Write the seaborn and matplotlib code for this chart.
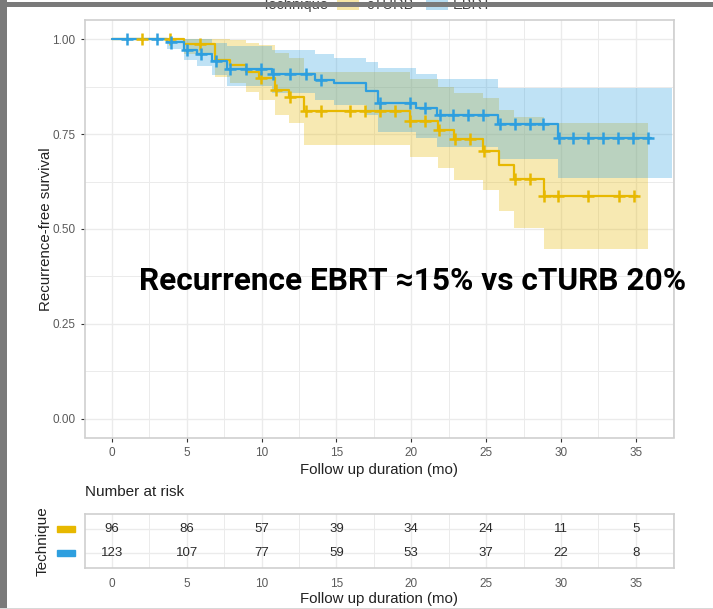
import numpy as np
import pandas as pd
import matplotlib
matplotlib.use('Agg')
import matplotlib.pyplot as plt
import matplotlib.transforms as mtransforms
from matplotlib.patches import Rectangle
from matplotlib.ticker import MultipleLocator
import seaborn as sns

groups = ['cTURB', 'EBRT']
colors = ['#E7B800', '#2E9FDF']

# cTURB (yellow): step times, survival, lower / upper 95% CI
cturb_time = [0, 4.85, 6.9, 7.9, 8.95, 9.85, 10.9, 11.85, 12.85, 19.9, 21.8, 22.85, 24.8, 25.85, 26.85, 28.85]
cturb_surv = [1.0, 0.987, 0.945, 0.933, 0.915, 0.898, 0.867, 0.849, 0.81, 0.786, 0.762, 0.737, 0.707, 0.669, 0.632, 0.586]
cturb_low = [1.0, 0.962, 0.900, 0.885, 0.862, 0.839, 0.80, 0.78, 0.722, 0.691, 0.661, 0.630, 0.603, 0.548, 0.503, 0.447]
cturb_upp = [1.0, 1.0, 1.0, 0.998, 0.99, 0.985, 0.965, 0.95, 0.915, 0.895, 0.875, 0.86, 0.845, 0.815, 0.795, 0.779]
cturb_end = 35.07
cturb_band_end = 35.8
cturb_cens = [2.0, 3.9, 5.9, 9.95, 10.95, 11.9, 12.95, 13.95, 15.9, 16.9, 17.9, 18.9, 19.95,
              20.9, 21.85, 22.9, 23.9, 24.85, 26.9, 27.9, 28.9, 29.8, 31.8, 33.85, 34.85]

# EBRT (blue)
ebrt_time = [0, 3.7, 4.85, 5.7, 6.7, 7.7, 10.7, 13.6, 14.85, 16.95, 17.8, 20.3, 21.7, 25.8, 29.8]
ebrt_surv = [1.0, 0.992, 0.972, 0.961, 0.943, 0.922, 0.908, 0.893, 0.885, 0.865, 0.833, 0.819, 0.801, 0.777, 0.740]
ebrt_low = [1.0, 0.976, 0.945, 0.930, 0.905, 0.876, 0.858, 0.840, 0.828, 0.800, 0.757, 0.740, 0.717, 0.685, 0.634]
ebrt_upp = [1.0, 1.0, 1.0, 1.0, 0.99, 0.982, 0.972, 0.962, 0.952, 0.94, 0.925, 0.91, 0.895, 0.871, 0.871]
ebrt_end = 36.0
ebrt_band_end = 37.4
ebrt_cens = [1.0, 3.0, 3.95, 5.0, 5.95, 6.95, 7.9, 8.95, 9.95, 10.8, 11.9, 12.95, 13.95, 17.9, 19.9,
             20.9, 21.95, 22.8, 23.8, 24.8, 25.9, 26.9, 27.9, 28.8, 29.9, 30.8, 31.8, 32.8, 33.8,
             34.8, 35.8]

# number at risk table
risk_times = [0, 5, 10, 15, 20, 25, 30, 35]
risk_cturb = [96, 86, 57, 39, 34, 24, 11, 5]
risk_ebrt = [123, 107, 77, 59, 53, 37, 22, 8]

annotation = 'Recurrence EBRT \u224815% vs cTURB 20%'

sns.set_theme(style='white')
plt.rcParams['font.family'] = ['Liberation Sans', 'DejaVu Sans']

palette = dict(zip(groups, colors))
curves = {
    'cTURB': (cturb_time, cturb_surv, cturb_low, cturb_upp, cturb_end, cturb_band_end, cturb_cens),
    'EBRT': (ebrt_time, ebrt_surv, ebrt_low, ebrt_upp, ebrt_end, ebrt_band_end, ebrt_cens),
}

line_rows = []
cens_rows = []
for g, (t, s, lo, hi, end, bend, cens) in curves.items():
    for ti, si in zip(t + [end], s + [s[-1]]):
        line_rows.append({'time': ti, 'surv': si, 'Technique': g})
    for c in cens:
        idx = np.searchsorted(t, c, side='right') - 1
        cens_rows.append({'time': c, 'surv': s[idx], 'Technique': g})
line_df = pd.DataFrame(line_rows)
cens_df = pd.DataFrame(cens_rows)

W, H = 713, 609
fig = plt.figure(figsize=(W / 100, H / 100), dpi=100)
ax = fig.add_axes([85 / W, 1 - 437.5 / H, 589 / W, 417 / H])
tab = fig.add_axes([85 / W, 1 - 568 / H, 589 / W, 54 / H])

grid_c = '#ebebeb'
frame_c = '#cfcfcf'
tick_c = '#5a5a5a'

# confidence bands
for g, (t, s, lo, hi, end, bend, cens) in curves.items():
    ax.fill_between(t + [bend], lo + [lo[-1]], hi + [hi[-1]], step='post',
                    color=palette[g], alpha=0.3, linewidth=0, zorder=2)

sns.lineplot(data=line_df, x='time', y='surv', hue='Technique', palette=palette,
             drawstyle='steps-post', estimator=None, sort=False, legend=False,
             linewidth=1.6, ax=ax, zorder=3)
sns.scatterplot(data=cens_df, x='time', y='surv', hue='Technique', palette=palette,
                marker='+', s=75, linewidth=1.8, legend=False, ax=ax, zorder=4)

ax.set_xlim(-1.79, 37.55)
ax.set_ylim(-0.05, 1.05)
ax.set_xticks(risk_times)
ax.set_yticks([0, 0.25, 0.5, 0.75, 1.0])
ax.set_yticklabels(['0.00', '0.25', '0.50', '0.75', '1.00'])
ax.xaxis.set_minor_locator(MultipleLocator(2.5))
ax.yaxis.set_minor_locator(MultipleLocator(0.125))
ax.grid(True, which='major', color=grid_c, linewidth=1.0, zorder=0)
ax.grid(True, which='minor', color=grid_c, linewidth=0.7, zorder=0)
ax.set_axisbelow(True)
ax.tick_params(axis='both', which='major', length=3, width=0.8, color='#333333',
               labelsize=8.5, labelcolor=tick_c, pad=4, bottom=True, left=True)
ax.tick_params(axis='both', which='minor', length=0)
ax.set_xlabel('Follow up duration (mo)', fontsize=10.8, color='#222222', labelpad=3)
ax.set_ylabel('Recurrence-free survival', fontsize=10.8, color='#222222')
ax.yaxis.set_label_coords(-0.054, 0.5)
for sp in ax.spines.values():
    sp.set_color(frame_c)
    sp.set_linewidth(1.2)

# number at risk table
risk_df = pd.DataFrame({
    'time': risk_times * 2,
    'row': [0] * len(risk_times) + [1] * len(risk_times),
    'n': risk_cturb + risk_ebrt,
})
for _, r in risk_df.iterrows():
    tab.text(r['time'], r['row'], str(r['n']), ha='center', va='center',
             fontsize=9.5, color='#2a2a2a')
tab.set_xlim(-1.79, 37.55)
tab.set_ylim(1.6, -0.6)
tab.set_xticks(risk_times)
tab.set_yticks([0, 1])
tab.set_yticklabels(['', ''])
tab.xaxis.set_minor_locator(MultipleLocator(2.5))
tab.grid(True, which='major', color=grid_c, linewidth=1.0)
tab.grid(True, which='minor', axis='x', color=grid_c, linewidth=0.7)
tab.set_axisbelow(True)
tab.tick_params(axis='x', which='major', length=0, labelsize=8.5, labelcolor=tick_c, pad=7)
tab.tick_params(axis='y', length=0)
tab.tick_params(which='minor', length=0)
tab.set_xlabel('Follow up duration (mo)', fontsize=10.8, color='#222222', labelpad=2)
for sp in tab.spines.values():
    sp.set_color(frame_c)
    sp.set_linewidth(1.2)

key_tr = mtransforms.blended_transform_factory(tab.transAxes, tab.transData)
for i, g in enumerate(groups):
    tab.add_patch(Rectangle((-0.0475, i - 0.12), 0.031, 0.24, transform=key_tr,
                            color=palette[g], clip_on=False))
fig.text(43 / W, 1 - 541 / H, 'Technique', rotation=90, ha='center', va='center',
         fontsize=11, color='#222222')
fig.text(85 / W, 1 - 492 / H, 'Number at risk', ha='left', va='center',
         fontsize=11, color='#222222')

# legend strip at the top (mostly cut off by the frame, as in the screenshot)
fig.text(262 / W, 1 - 9 / H, 'Technique', ha='left', va='baseline', fontsize=10.5, color='#444444')
for x0, g, lab_x, lab in [(337, 'cTURB', 366, 'cTURB'), (426, 'EBRT', 453, 'EBRT')]:
    fig.patches.append(Rectangle((x0 / W, 1 - 10 / H), 22 / W, 10 / H, transform=fig.transFigure,
                                 facecolor=palette[g], alpha=0.35, linewidth=0))
    fig.text(lab_x / W, 1 - 9 / H, lab, ha='left', va='baseline', fontsize=10.5, color='#444444')

# screenshot frame
fig.patches.append(Rectangle((0, 0), 7 / W, 1, transform=fig.transFigure,
                             facecolor='#7a7a7a', linewidth=0, zorder=10))
fig.patches.append(Rectangle((0, 1 - 7 / H), 1, 5 / H, transform=fig.transFigure,
                             facecolor='#7a7a7a', linewidth=0, zorder=10))
fig.patches.append(Rectangle((0, 0), 1, 1.2 / H, transform=fig.transFigure,
                             facecolor='#d8d8d8', linewidth=0, zorder=10))

fig.text(139 / W, 1 - 281 / H, annotation, ha='left', va='center', fontsize=22.8,
         fontweight='bold', color='black', family=['Roboto', 'DejaVu Sans'])

fig.savefig('out.png', dpi=100)
